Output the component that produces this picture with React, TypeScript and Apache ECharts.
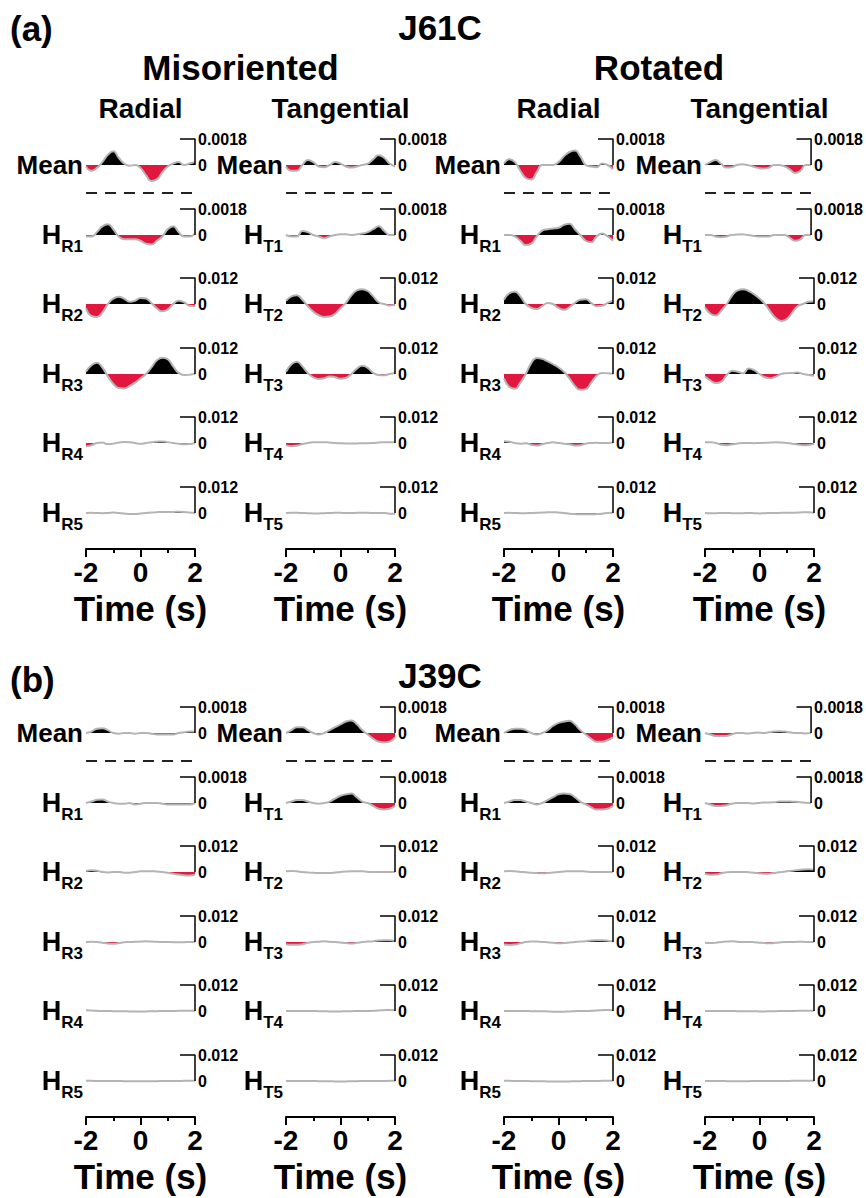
import React, { useEffect, useRef } from "react";
import * as echarts from "echarts";

// ---------- axis / label data ----------
const times = [-2, -1.8, -1.6, -1.4, -1.2, -1, -0.8, -0.6, -0.4, -0.2, 0, 0.2, 0.4, 0.6, 0.8, 1, 1.2, 1.4, 1.6, 1.8, 2];
const panelTitles = ["J61C", "J39C"];
const panelTags = ["(a)", "(b)"];
const groupTitles = ["Misoriented", "Rotated"];
const columnTitles = ["Radial", "Tangential", "Radial", "Tangential"];
const componentLetters = ["R", "T", "R", "T"];
const rowNames = ["Mean", "1", "2", "3", "4", "5"];
const scaleValues = [0.0018, 0.0018, 0.012, 0.012, 0.012, 0.012];
const scaleLabels = ["0.0018", "0.0018", "0.012", "0.012", "0.012", "0.012"];
const timeMin = -2;
const timeMax = 2;
const timeTickStep = 2;
const timeAxisName = "Time (s)";

// ---------- waveform data (rows: Mean, H1..H5) ----------
// (a) J61C, Misoriented Radial
const J61C_misRadial = [
  [-0.0001, -0.0004, -0.0002, 0.0002, 0.0007, 0.00095, 0.0005, 0.0001, -0.00005, 0, -0.0002, -0.0007, -0.0011, -0.001, -0.0005, -0.0001, 0.0001, 0.0002, 0, 0.0001, 0.0002],
  [-0.0001, -0.0001, 0.0002, 0.0006, 0.00074, 0.0004, -0.0001, -0.0003, -0.0003, -0.0003, -0.0004, -0.0006, -0.00066, -0.0004, -0.0001, 0.0004, 0.0006, 0.0002, -0.0001, -0.0001, 0.0001],
  [-0.002, -0.0055, -0.006, -0.004, 0, 0.0025, 0.0033, 0.0025, 0.001, 0.0015, 0.0028, 0.0025, 0.0005, -0.002, -0.0034, -0.0025, 0, 0.0015, 0.0008, -0.0008, -0.001],
  [0.001, 0.004, 0.0052, 0.003, -0.001, -0.0045, -0.0065, -0.0067, -0.0055, -0.004, -0.002, 0, 0.003, 0.0063, 0.0075, 0.0068, 0.0035, 0.0005, -0.0005, -0.0003, 0],
  [-0.0015, -0.001, 0, 0.0002, -0.0005, -0.0003, 0.0002, 0.0005, 0.0004, 0, -0.0004, 0, 0.0004, 0.0006, 0.0007, 0.0004, 0, -0.0004, -0.0006, -0.0005, 0],
  [0, 0.0001, 0, -0.0001, 0, 0.0002, 0, -0.0002, -0.0005, -0.0005, -0.0002, 0, 0.0002, 0.0004, 0.0005, 0.0005, 0.0005, 0.0006, 0.0005, 0.0002, 0],
];
// (a) J61C, Misoriented Tangential
const J61C_misTangential = [
  [-0.0001, -0.0004, -0.0004, 0, 0.00034, 0.0002, -0.0001, -0.00015, 0, 0.0002, 0.0001, -0.0001, -0.00018, -0.0001, 0, 0.0001, 0.0004, 0.00068, 0.0005, 0.0001, -0.0001],
  [0, -0.0001, -0.0001, 0.00027, 0.0002, 0, -0.0001, -0.00023, -0.0001, 0, 0.00005, 0.00005, 0, 0.00005, 0.0001, 0.0002, 0.0004, 0.0006, 0.0003, 0, 0],
  [0.0015, 0.0035, 0.004, 0.002, -0.001, -0.0035, -0.0052, -0.006, -0.0058, -0.0045, -0.002, 0.0005, 0.004, 0.0063, 0.0068, 0.006, 0.0035, 0.0008, 0, -0.0007, -0.0005],
  [0.001, 0.0045, 0.0057, 0.0035, 0.0005, -0.0015, -0.0023, -0.002, -0.0011, -0.0015, -0.0022, -0.0018, 0, 0.0025, 0.0038, 0.0028, 0.0005, -0.0005, -0.0006, 0, 0.0003],
  [-0.001, -0.0015, -0.0012, -0.0005, 0, 0.0003, 0.0004, 0.0004, 0.0002, 0, -0.0001, -0.0002, -0.0002, -0.0002, -0.0001, -0.0001, 0, 0.0002, 0.0004, 0.0004, 0.0003],
  [0, 0.0001, 0.0001, 0, -0.0001, -0.0002, -0.0002, -0.0001, 0, 0.0001, 0.0001, 0, 0, 0.0001, 0.0001, 0.0001, 0, 0, 0, -0.0003, -0.0003],
];
// (a) J61C, Rotated Radial
const J61C_rotRadial = [
  [0.0001, 0.0004, 0.0002, -0.0004, -0.0009, -0.001, -0.0005, 0, 0, 0, 0.0002, 0.0006, 0.0009, 0.001, 0.0006, 0, -0.0001, -0.00015, 0.0001, 0, -0.0003],
  [0, 0, -0.0001, -0.0004, -0.0007, -0.0006, -0.0001, 0.0003, 0.0004, 0.00045, 0.0005, 0.0007, 0.00078, 0.0004, 0, -0.0004, -0.0005, -0.0001, 0.0001, -0.0001, -0.0004],
  [0.002, 0.005, 0.0057, 0.0035, 0, -0.0018, -0.0023, -0.001, 0.0005, 0, -0.0018, -0.0027, -0.0015, 0.0005, 0.002, 0.0022, 0.0005, -0.001, -0.0008, 0.0005, 0.0015],
  [-0.002, -0.006, -0.0068, -0.004, 0, 0.005, 0.0074, 0.007, 0.0058, 0.0045, 0.003, 0.001, -0.002, -0.0055, -0.0073, -0.007, -0.004, -0.0008, 0.0005, 0.0003, 0],
  [0.0008, 0.0006, 0, -0.0003, -0.0001, -0.0008, -0.0012, -0.0006, 0, 0.0003, 0, -0.0003, -0.0006, -0.0011, -0.001, -0.0003, 0, 0.0001, 0, 0, 0.0002],
  [0, 0.0001, 0, -0.0001, -0.0001, 0, 0.0001, 0.0002, 0.0003, 0.0004, 0.0002, 0, -0.0003, -0.0005, -0.0006, -0.0006, -0.0006, -0.0005, -0.0003, 0, 0.0001],
];
// (a) J61C, Rotated Tangential
const J61C_rotTangential = [
  [0, 0.0002, 0.00034, 0.0001, -0.00018, -0.00015, 0, 0.00005, 0, -0.0001, -0.0002, -0.00025, -0.0002, 0, 0, -0.0001, -0.0003, -0.00055, -0.0004, 0, 0],
  [0, 0, -0.0001, -0.00015, -0.0001, 0, 0.00003, 0.00005, 0, -0.00005, -0.0001, -0.0001, -0.0001, 0, 0, 0, -0.0002, -0.0004, -0.0003, 0, 0],
  [-0.0015, -0.0045, -0.0053, -0.003, 0, 0.004, 0.0063, 0.0068, 0.006, 0.0045, 0.0025, 0, -0.0035, -0.0065, -0.0078, -0.007, -0.004, -0.001, 0, 0.001, 0.0012],
  [-0.001, -0.003, -0.0042, -0.0035, -0.0005, 0.0015, 0.001, 0.0003, 0.0025, 0.0018, 0, -0.0015, -0.002, -0.0012, 0, 0.0004, 0.0005, 0.0007, 0, -0.0005, -0.0008],
  [0.0003, 0.0004, 0, -0.0008, -0.001, -0.0006, -0.0002, 0, 0, -0.0001, 0, 0.0001, 0.0002, 0.0003, 0.0002, 0, -0.0003, -0.0007, -0.001, -0.0009, -0.0004],
  [0, -0.0001, -0.0001, 0, 0, -0.0001, -0.0001, -0.0001, 0, -0.0001, -0.0002, -0.0001, 0, 0, 0.0001, 0.0001, 0.0001, 0.0002, 0.0003, 0.0003, 0.0001],
];
// (b) J39C, Misoriented Radial
const J39C_misRadial = [
  [0, 0.0001, 0.0003, 0.00033, 0.0002, 0, -0.00005, 0, 0, -0.00005, 0, 0, -0.00005, -0.0001, -0.0001, -0.0001, -0.0001, 0, 0.00005, 0.0001, 0.0001],
  [0, 0.0001, 0.00022, 0.00025, 0.0001, 0, -0.00005, -0.00005, 0, -0.0001, -0.00005, 0, 0, 0, -0.00005, -0.0001, -0.0001, -0.0001, -0.0001, -0.0001, 0],
  [0.0005, 0.0008, 0.0006, 0, -0.0002, 0, 0, -0.0003, -0.0003, 0, 0.0003, 0.0004, 0.0004, 0.0002, 0, -0.0003, -0.0008, -0.0012, -0.0015, -0.0016, -0.0012],
  [0, 0.0001, 0, -0.0003, -0.0007, -0.0008, -0.0005, -0.0001, 0, 0.0001, 0.0002, 0.0003, 0.0002, 0.0001, 0, 0, -0.0001, -0.0001, -0.0001, 0, 0],
  [0.0003, 0.0002, 0.0001, 0, 0, -0.0001, -0.0001, -0.0001, -0.0002, -0.0002, -0.0002, -0.0002, -0.0001, -0.0001, 0, 0, 0, 0.0001, 0.0001, 0.0001, 0.0001],
  [0.0001, 0.0001, 0, 0, 0, 0, 0, -0.0001, -0.0001, -0.0001, -0.0001, -0.0001, -0.0001, -0.0001, 0, 0, 0, 0, 0.0001, 0.0001, 0.0001],
];
// (b) J39C, Misoriented Tangential
const J39C_misTangential = [
  [0, 0.0002, 0.0004, 0.0004, 0.0002, 0, -0.0001, 0, 0.0002, 0.0004, 0.0006, 0.0008, 0.00087, 0.0006, 0.0002, -0.0001, -0.0004, -0.0006, -0.00065, -0.0006, -0.0003],
  [0, 0.0001, 0.0002, 0.0002, 0.0001, 0, -0.00005, 0, 0.0001, 0.0003, 0.0005, 0.0006, 0.00065, 0.0004, 0.0001, 0, -0.0002, -0.0004, -0.00045, -0.0004, -0.0002],
  [0.0003, 0.0005, 0.0003, 0, -0.0002, -0.0004, -0.0005, -0.0005, -0.0005, -0.0002, 0, 0.0002, 0.0003, 0.0003, 0.0003, 0.0001, 0, 0, 0, 0, 0],
  [-0.001, -0.0013, -0.0013, -0.001, -0.0004, 0, 0.0001, 0.0003, 0.0001, 0, -0.0002, -0.0005, -0.0007, -0.0004, 0, 0.0002, 0.0004, 0.0007, 0.0008, 0.0008, 0.0005],
  [0, 0, 0, 0, 0, 0, -0.0001, -0.0001, -0.0002, -0.0002, -0.0002, -0.0001, -0.0001, 0, 0, 0, 0.0001, 0.0002, 0.0004, 0.0005, 0.0004],
  [0, 0, 0, 0, 0, 0, -0.0001, -0.0001, -0.0001, -0.0002, -0.0002, -0.0002, -0.0001, -0.0001, 0, 0, 0, 0, 0, 0.0001, 0.0001],
];
// (b) J39C, Rotated Radial
const J39C_rotRadial = [
  [0, 0.0002, 0.0003, 0.0003, 0.0002, 0, -0.0001, 0, 0.0002, 0.0005, 0.0007, 0.0008, 0.00085, 0.0006, 0.0002, -0.0001, -0.0004, -0.0006, -0.0006, -0.0005, -0.0003],
  [0, 0.0001, 0.0002, 0.0002, 0.0001, 0, -0.0001, 0, 0.0002, 0.0004, 0.0006, 0.00065, 0.00062, 0.0004, 0.0001, -0.0001, -0.0003, -0.00045, -0.00045, -0.0004, -0.0002],
  [0.0004, 0.0005, 0.0004, 0, -0.0001, -0.0004, -0.0005, -0.0006, -0.0005, -0.0002, 0, 0.0002, 0.0004, 0.0004, 0.0004, 0.0002, 0, 0, 0, 0, 0],
  [-0.0012, -0.0014, -0.0012, -0.0006, 0, 0.0002, 0.0002, 0, -0.0001, -0.0004, -0.0006, -0.0005, -0.0002, 0, 0.0002, 0.0004, 0.0007, 0.0008, 0.0008, 0.0006, 0.0002],
  [0, 0, 0, 0, 0, -0.0001, -0.0001, -0.0001, -0.0002, -0.0003, -0.0003, -0.0003, -0.0002, -0.0001, 0, 0, 0.0001, 0.0002, 0.0004, 0.0005, 0.0004],
  [0.0001, 0.0001, 0, 0, 0, -0.0001, -0.0001, -0.0001, -0.0002, -0.0002, -0.0002, -0.0002, -0.0002, -0.0001, -0.0001, 0, 0, 0, 0.0001, 0.0001, 0.0001],
];
// (b) J39C, Rotated Tangential
const J39C_rotTangential = [
  [0, -0.0001, -0.0002, -0.0002, -0.0002, -0.0001, 0, 0, -0.00003, 0, 0.00003, 0, 0.00005, 0.0001, 0.00012, 0.0001, 0.00005, 0, 0, -0.00003, 0],
  [0, -0.0001, -0.0002, -0.0002, -0.00015, -0.00005, 0, 0, 0, -0.00003, 0, 0.00003, 0.00003, 0.00005, 0.0001, 0.0001, 0.0001, 0.00008, 0.00005, 0.00002, 0],
  [-0.0008, -0.0013, -0.0012, -0.0006, -0.0001, 0, 0, 0, -0.0001, -0.0003, -0.0006, -0.0008, -0.0007, -0.0003, 0, 0.0003, 0.0006, 0.0009, 0.0012, 0.0013, 0.0011],
  [-0.0004, -0.0005, -0.0003, 0, 0.0002, 0.0003, 0.0001, 0, 0, -0.0001, -0.0003, -0.0005, -0.0006, -0.0004, -0.0001, 0, 0, 0.0001, 0.0001, 0, 0],
  [0, 0, 0, 0, 0, 0, -0.0001, -0.0001, -0.0001, -0.0001, -0.0002, -0.0002, -0.0001, -0.0001, 0, 0, 0, 0.0001, 0.0001, 0.0001, 0.0001],
  [0, 0, 0, 0, -0.0001, -0.0001, -0.0001, -0.0001, -0.0001, 0, 0, 0, 0, 0, 0, 0, 0.0001, 0.0001, 0.0001, 0.0001, 0.0001],
];

const panels = [
  [J61C_misRadial, J61C_misTangential, J61C_rotRadial, J61C_rotTangential],
  [J39C_misRadial, J39C_misTangential, J39C_rotRadial, J39C_rotTangential],
];

// ---------- layout / style ----------
const FF = '"Liberation Sans", Arial, Helvetica, sans-serif';
const RED = "#e2173f";
const OUTLINE = "#b4b4b4";
const PLOT_LEFT = [86, 286, 504, 705];
const PLOT_W = 109;
const PANEL_BASE = [165, 733];
const ROW_OFF = [0, 70, 139, 209, 278, 348];
const AXIS_Y = [549, 1117];
const SCALE_PX = 26;

function buildOption() {
  const grid: any[] = [];
  const xAxis: any[] = [];
  const yAxis: any[] = [];
  const series: any[] = [];
  const graphic: any[] = [];

  const txt = (x: number, y: number, text: string, size: number, align = "center") => ({
    type: "text",
    x,
    y,
    silent: true,
    style: {
      text,
      fill: "#000",
      fontSize: size,
      fontWeight: "bold",
      fontFamily: FF,
      align,
      textAlign: align,
      verticalAlign: "middle",
      textVerticalAlign: "middle",
    },
  });

  // headers
  graphic.push(txt(10, 28, panelTags[0], 35, "left"));
  graphic.push(txt(440, 27, panelTitles[0], 35));
  graphic.push(txt((PLOT_LEFT[0] + PLOT_LEFT[1] + PLOT_W) / 2, 67, groupTitles[0], 35));
  graphic.push(txt((PLOT_LEFT[2] + PLOT_LEFT[3] + PLOT_W) / 2, 67, groupTitles[1], 35));
  columnTitles.forEach((t, c) => graphic.push(txt(PLOT_LEFT[c] + PLOT_W / 2, 108, t, 28)));
  graphic.push(txt(10, 679, panelTags[1], 35, "left"));
  graphic.push(txt(440, 675, panelTitles[1], 35));

  panels.forEach((cols, p) => {
    cols.forEach((rows, c) => {
      const left = PLOT_LEFT[c];
      rows.forEach((vals, r) => {
        const s = scaleValues[r];
        const base = PANEL_BASE[p] + ROW_OFF[r];
        const top = base - SCALE_PX;
        const gi = grid.length;
        grid.push({ left, top, width: PLOT_W, height: SCALE_PX * 2 });
        xAxis.push({ gridIndex: gi, type: "value", min: timeMin, max: timeMax, show: false });
        const lab = scaleLabels[r];
        yAxis.push({
          gridIndex: gi,
          type: "value",
          min: -s,
          max: s,
          interval: s,
          position: "right",
          axisLine: { show: false },
          axisTick: { show: false },
          splitLine: { show: false },
          axisLabel: {
            margin: 3,
            fontSize: 16,
            fontWeight: "bold",
            fontFamily: FF,
            color: "#000",
            formatter: (v: number) => (Math.abs(v) < s * 1e-6 ? "0" : v > 0 ? lab : ""),
          },
        });
        const grad = new echarts.graphic.LinearGradient(
          0, top, 0, top + SCALE_PX * 2,
          [
            { offset: 0, color: "#000" },
            { offset: 0.5, color: "#000" },
            { offset: 0.5, color: RED },
            { offset: 1, color: RED },
          ],
          true
        );
        series.push({
          type: "line",
          xAxisIndex: gi,
          yAxisIndex: gi,
          data: times.map((t, i) => [t, vals[i]]),
          smooth: 0.5,
          symbol: "none",
          showSymbol: false,
          silent: true,
          lineStyle: { color: OUTLINE, width: 2 },
          areaStyle: { color: grad, opacity: 1 },
          z: 2,
        });
        // scale bar
        series.push({
          type: "line",
          xAxisIndex: gi,
          yAxisIndex: gi,
          data: [[timeMax - 0.55, s], [timeMax, s], [timeMax, 0]],
          symbol: "none",
          silent: true,
          clip: false,
          lineStyle: { color: "#000", width: 1.5 },
          z: 3,
        });
        // row label
        if (r === 0) {
          graphic.push(txt(left - 3, base, rowNames[0], 26, "right"));
          graphic.push({
            type: "line",
            silent: true,
            shape: { x1: left, y1: base + 28, x2: left + PLOT_W, y2: base + 28 },
            style: { stroke: "#222", lineWidth: 2, lineDash: [11, 8] },
          });
        } else {
          const sub = componentLetters[c] + rowNames[r];
          const subW = (componentLetters[c] === "R" ? 0.722 : 0.611) * 17 + 0.556 * 17;
          graphic.push(txt(left - 3, base + 11, sub, 17, "right"));
          graphic.push(txt(left - 3 - subW, base, "H", 27, "right"));
        }
      });
      // time axis
      const gi = grid.length;
      grid.push({ left, top: AXIS_Y[p] - 1, width: PLOT_W, height: 1 });
      xAxis.push({
        gridIndex: gi,
        type: "value",
        min: timeMin,
        max: timeMax,
        interval: timeTickStep,
        position: "bottom",
        axisLine: { lineStyle: { color: "#000", width: 2 } },
        axisTick: { length: 8, lineStyle: { color: "#000", width: 2 } },
        minorTick: { show: true, splitNumber: 2, length: 4, lineStyle: { color: "#000", width: 2 } },
        splitLine: { show: false },
        axisLabel: { fontSize: 28, fontWeight: "bold", fontFamily: FF, color: "#000", margin: 9 },
        name: timeAxisName,
        nameLocation: "middle",
        nameGap: 42,
        nameTextStyle: { fontSize: 35, fontWeight: "bold", fontFamily: FF, color: "#000" },
      });
      yAxis.push({ gridIndex: gi, type: "value", show: false, min: 0, max: 1 });
    });
  });

  return {
    animation: false,
    backgroundColor: "#fff",
    grid,
    xAxis,
    yAxis,
    series,
    graphic: { elements: graphic },
  };
}

export default function App() {
  const ref = useRef<HTMLDivElement>(null);
  useEffect(() => {
    document.body.style.margin = "0";
    if (!ref.current) return;
    const chart = echarts.init(ref.current, undefined, { renderer: "svg" });
    chart.setOption(buildOption() as any);
    return () => chart.dispose();
  }, []);
  return <div ref={ref} style={{ width: 866, height: 1198 }} />;
}
